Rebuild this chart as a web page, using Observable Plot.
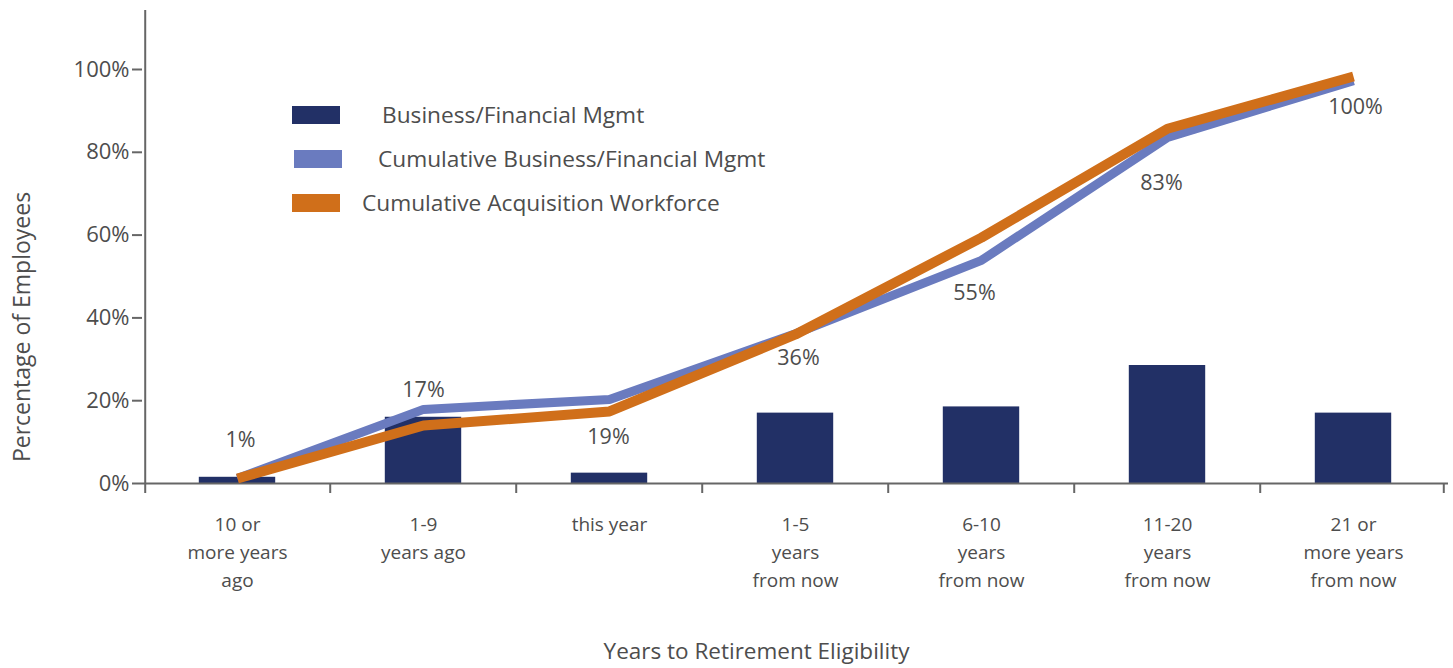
<!DOCTYPE html>
<html>
<head>
<meta charset="utf-8">
<script src="https://cdn.jsdelivr.net/npm/d3@7"></script>
<script src="https://cdn.jsdelivr.net/npm/@observablehq/plot@0.6"></script>
<style>
  body { margin: 0; background: #fff; }
  #wrap { position: relative; width: 1453px; height: 668px; font-family: "Open Sans", sans-serif; color: #4d4d4d; }
  .legend { position: absolute; left: 292px; top: 100px; }
  .legend .sw { position: absolute; width: 48px; height: 18px; }
  .legend .lbl { position: absolute; white-space: nowrap; line-height: 1; }
</style>
</head>
<body>
<div id="wrap"></div>
<script>
// ---- data ----
const categories = [
  "10 or\nmore years\nago",
  "1-9\nyears ago",
  "this year",
  "1-5\nyears\nfrom now",
  "6-10\nyears\nfrom now",
  "11-20\nyears\nfrom now",
  "21 or\nmore years\nfrom now"
];
const bizFin = [1.5, 16, 2.5, 17, 18.5, 28.5, 17];
const cumBizFin = [1.2, 17.9, 20.3, 36.2, 53.9, 83.6, 97.3];
const cumAcq = [1.2, 14.0, 17.4, 36.0, 59.4, 85.7, 98.3];
const pointLabels = ["1%", "17%", "19%", "36%", "55%", "83%", "100%"];
const yTicks = [0, 20, 40, 60, 80, 100];
const seriesNames = ["Business/Financial Mgmt", "Cumulative Business/Financial Mgmt", "Cumulative Acquisition Workforce"];

// ---- layout / style ----
const W = 1453, H = 668;
const mL = 142, mR = 5, mT = 10, mB = 185;
const yMax = 114.25;
const step = (W - mL - mR) / categories.length;
const pxPerUnit = (H - mT - mB) / yMax;
const tickLen = 10 / pxPerUnit;
const colors = ["#223066", "#6a7bbf", "#d06f1a"];
const textColor = "#4d4d4d";
// label offsets in px relative to the cumulative business/financial line
const labelDx = [3, 0, -1, 3, -7, -6, 2];
const labelDy = [-38, -19, 38, 24, 33, 46, 26];

const rows = categories.map((c, i) => ({cat: c, bar: bizFin[i], cb: cumBizFin[i], ca: cumAcq[i], label: pointLabels[i]}));

const labelMarks = rows.map((r, i) => Plot.text([r], {
  x: "cat", y: "cb", text: "label", dx: labelDx[i], dy: labelDy[i],
  fontSize: 21.5, fill: textColor
}));

const chart = Plot.plot({
  width: W, height: H,
  marginLeft: mL, marginRight: mR, marginTop: mT, marginBottom: mB,
  style: {fontFamily: "'Open Sans', sans-serif", color: textColor, background: "#fff", overflow: "visible"},
  x: {type: "band", domain: categories, padding: 0},
  y: {domain: [0, yMax]},
  marks: [
    Plot.barY(rows, {x: "cat", y: "bar", fill: colors[0], insetLeft: 54.8, insetRight: 54.8}),
    Plot.ruleY([0], {stroke: "#666", strokeWidth: 2}),
    Plot.ruleX([categories[0]], {dx: -step / 2 + 1, y1: -tickLen, y2: yMax, stroke: "#666", strokeWidth: 2}),
    Plot.ruleX(categories.slice(1), {dx: -step / 2, y1: -tickLen, y2: 0, stroke: "#666", strokeWidth: 2}),
    Plot.ruleX([categories[categories.length - 1]], {dx: step / 2 - 3, y1: -tickLen, y2: 0, stroke: "#666", strokeWidth: 2}),
    Plot.line(rows, {x: "cat", y: "cb", stroke: colors[1], strokeWidth: 9, strokeLinejoin: "miter", strokeLinecap: "butt"}),
    Plot.line(rows, {x: "cat", y: "ca", stroke: colors[2], strokeWidth: 10, strokeLinejoin: "miter", strokeLinecap: "butt"}),
    ...labelMarks,
    Plot.axisY({ticks: yTicks, tickFormat: d => d + "%", tickSize: 10, tickPadding: 3, fontSize: 22, stroke: "#666", strokeWidth: 2, label: null, color: textColor}),
    Plot.axisX({tickSize: 0, tickPadding: 28, fontSize: 19, lineHeight: 1.47, label: null, color: textColor}),
    Plot.text(["Percentage of Employees"], {frameAnchor: "left", textAnchor: "middle", dx: -120, dy: 80, rotate: -90, fontSize: 23, fill: textColor}),
    Plot.text(["Years to Retirement Eligibility"], {frameAnchor: "bottom", dx: -39, dy: 175, fontSize: 22.5, fill: textColor})
  ]
});

const wrap = document.getElementById("wrap");
wrap.appendChild(chart);

// legend (HTML, positioned over plot)
const legend = document.createElement("div");
legend.className = "legend";
const rowTops = [6, 50, 94];
const swLeft = [0, 2, 0];
const lblLeft = [90, 86, 70];
seriesNames.forEach((name, i) => {
  const sw = document.createElement("div");
  sw.className = "sw";
  sw.style.left = swLeft[i] + "px";
  sw.style.top = rowTops[i] + "px";
  sw.style.background = colors[i];
  legend.appendChild(sw);
  const lb = document.createElement("div");
  lb.className = "lbl";
  lb.style.left = lblLeft[i] + "px";
  lb.style.top = (rowTops[i] - 2) + "px";
  lb.style.fontSize = "22.7px";
  lb.textContent = name;
  legend.appendChild(lb);
});
wrap.appendChild(legend);
</script>
</body>
</html>
